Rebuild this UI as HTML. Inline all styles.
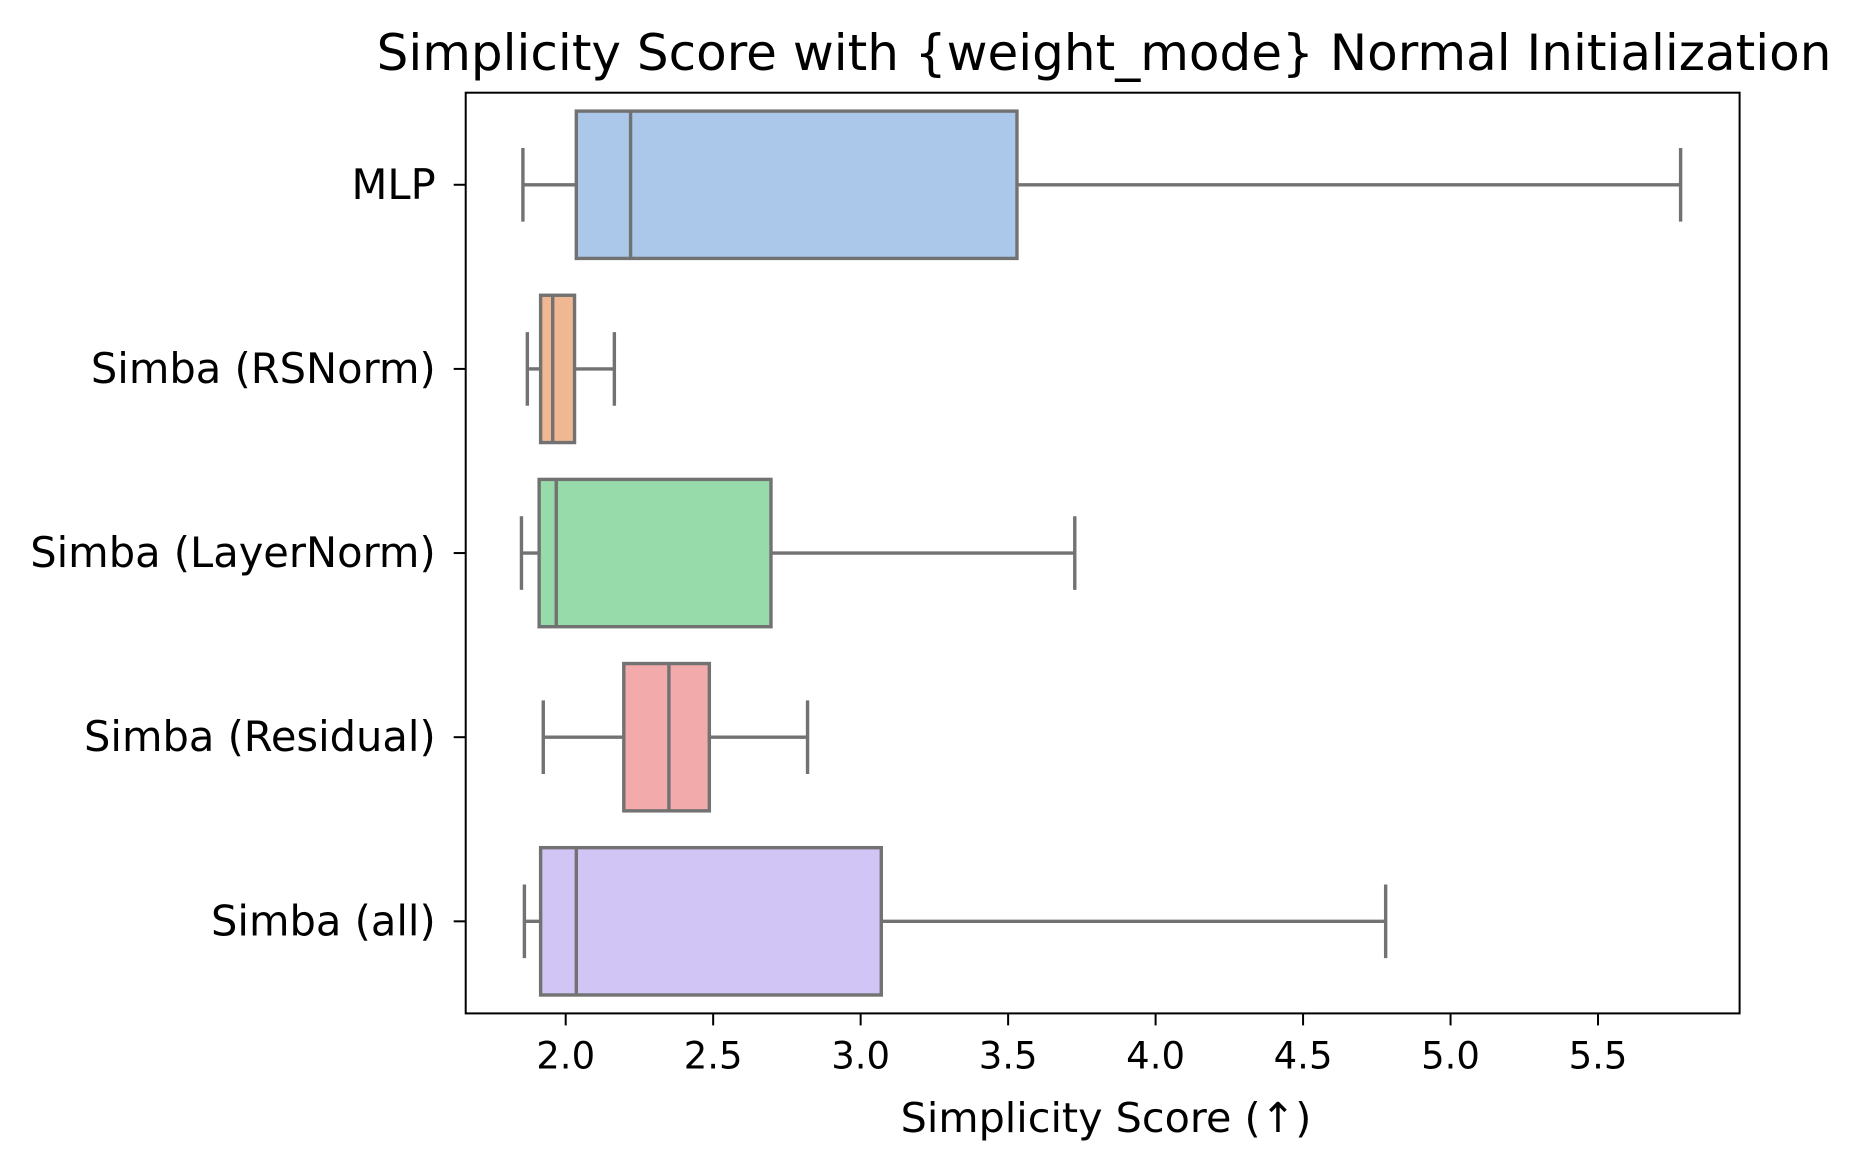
<!DOCTYPE html>
<html><head><meta charset="utf-8"><style>
body{margin:0;background:#fff}
svg{display:block;font-family:"DejaVu Sans","Liberation Sans",sans-serif}
</style></head><body>
<svg id="chart" width="1859" height="1166" viewBox="0 0 1859 1166">
<text x="1104" y="70" font-size="50" text-anchor="middle">Simplicity Score with {weight_mode} Normal Initialization</text>
<text x="1106" y="1132" font-size="41.3" text-anchor="middle">Simplicity Score (↑)</text>
<g id="marks"></g>
<g id="axes"></g>
</svg>
<script>
const categories = ["MLP","Simba (RSNorm)","Simba (LayerNorm)","Simba (Residual)","Simba (all)"];
const whiskerLow = [1.855,1.87,1.85,1.924,1.86];
const q1 = [2.036,1.915,1.91,2.197,1.915];
const median = [2.22,1.956,1.968,2.35,2.036];
const q3 = [3.53,2.03,2.696,2.487,3.07];
const whiskerHigh = [5.78,2.165,3.726,2.82,4.78];
const colors = ["#abc8eb","#efb792","#98dbaa","#f2abaa","#d1c5f6"];
const xTicks = [2.0,2.5,3.0,3.5,4.0,4.5,5.0,5.5];
const xTickLabels = ["2.0","2.5","3.0","3.5","4.0","4.5","5.0","5.5"];

const L=465.7,R=1739.6,T=92.7,B=1013.4,xmin=1.661,xmax=5.98;
const xs=v=>L+(v-xmin)/(xmax-xmin)*(R-L);
const slot=(B-T)/categories.length;
const yc=i=>T+slot*(i+0.5);
const NS="http://www.w3.org/2000/svg";
function mk(tag,attrs,parent){const e=document.createElementNS(NS,tag);for(const k in attrs)e.setAttribute(k,attrs[k]);parent.appendChild(e);return e;}
const marks=document.getElementById('marks'),axes=document.getElementById('axes');
const ec="#727272",lw=3.4;
categories.forEach((c,i)=>{
  const y=yc(i),h=slot*0.8,cap=h/2;
  const g=mk('g',{},marks);
  
  
  mk('line',{x1:xs(whiskerLow[i]),x2:xs(q1[i]),y1:y,y2:y,stroke:ec,'stroke-width':lw},g);
  mk('line',{x1:xs(q3[i]),x2:xs(whiskerHigh[i]),y1:y,y2:y,stroke:ec,'stroke-width':lw},g);
  mk('line',{x1:xs(whiskerLow[i]),x2:xs(whiskerLow[i]),y1:y-cap/2,y2:y+cap/2,stroke:ec,'stroke-width':lw},g);
  mk('line',{x1:xs(whiskerHigh[i]),x2:xs(whiskerHigh[i]),y1:y-cap/2,y2:y+cap/2,stroke:ec,'stroke-width':lw},g);
  mk('rect',{x:xs(q1[i]),y:y-h/2,width:xs(q3[i])-xs(q1[i]),height:h,fill:colors[i],stroke:ec,'stroke-width':lw},g);
  mk('line',{x1:xs(median[i]),x2:xs(median[i]),y1:y-h/2,y2:y+h/2,stroke:ec,'stroke-width':lw},g);
  const t=mk('text',{x:L-30,y:y+14,'font-size':41.6,'text-anchor':'end'},axes);
  t.textContent=c;
  
  
  mk('line',{x1:L-12,x2:L,y1:y,y2:y,stroke:'#000','stroke-width':2},axes);
});
const fr=mk('rect',{x:L,y:T,width:R-L,height:B-T,fill:'none',stroke:'#000','stroke-width':2},axes);


xTicks.forEach((v,i)=>{
  mk('line',{x1:xs(v),x2:xs(v),y1:B,y2:B+12,stroke:'#000','stroke-width':2},axes);
  const t=mk('text',{x:xs(v),y:B+55,'font-size':37,'text-anchor':'middle'},axes);
  t.textContent=xTickLabels[i];
  
  
});
</script>
</body></html>
